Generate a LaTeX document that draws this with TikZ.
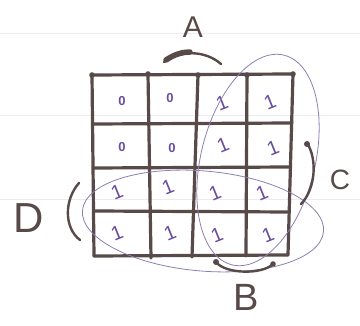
\documentclass[tikz,border=0pt]{standalone}
\usepackage{graphicx}
\usepackage{fontspec}
\setmainfont{Liberation Sans}
\definecolor{ink}{HTML}{574A48}
\definecolor{pen}{HTML}{6A4E9E}
\definecolor{loopc}{HTML}{8E7FB2}
\definecolor{rule}{HTML}{ECECEC}
\newcommand{\kone}{\rotatebox{22}{1}}
\begin{document}
\begin{tikzpicture}[x=1pt,y=-1pt,
  gridline/.style={ink, line width=3.2pt, line cap=round},
  zero/.style={pen, font=\fontsize{13}{13}\selectfont\bfseries, inner sep=0pt},
  one/.style={pen, font=\fontsize{20}{20}\selectfont, inner sep=0pt},
  lbl/.style={ink, inner sep=0pt},
  brace/.style={ink, line width=2.4pt, line cap=round},
  grouploop/.style={loopc, line width=0.8pt}]
\useasboundingbox (0,0) rectangle (360,326);
% faint ruled lines
\draw[rule, line width=0.6pt] (0,33) -- (360,33);
\draw[rule, line width=0.6pt] (0,115) -- (360,115);
\draw[rule, line width=0.6pt] (0,199) -- (360,199);
% grid corner coordinates
\coordinate (t0) at (92,75);  \coordinate (t1) at (148,74); \coordinate (t2) at (198,75);
\coordinate (t3) at (247,75); \coordinate (t4) at (293,74);
\coordinate (b0) at (94,256); \coordinate (b1) at (151,258); \coordinate (b2) at (192,257);
\coordinate (b3) at (246,256); \coordinate (b4) at (288,255);
\coordinate (l1) at (93,124); \coordinate (l2) at (93,168); \coordinate (l3) at (94,211);
\coordinate (r1) at (292,123); \coordinate (r2) at (290,167); \coordinate (r3) at (289,212);
% grid
\draw[gridline] (t0) -- (t4);
\draw[gridline] (l1) -- (r1);
\draw[gridline] (l2) -- (r2);
\draw[gridline] (l3) -- (r3);
\draw[gridline] (b0) -- (b4);
\foreach \i in {0,...,4} {
  \draw[gridline] (t\i) -- (b\i);
  \fill[ink] (t\i) circle (2.8);
}
% cell values
\node[zero] (c11) at (122,101) {0};
\node[zero] (c12) at (170,98) {0};
\node[one]  (c13) at (222,103) {\kone};
\node[one]  (c14) at (270,102) {\kone};
\node[zero] (c21) at (122,147) {0};
\node[zero] (c22) at (172,148) {0};
\node[one]  (c23) at (223,145) {\kone};
\node[one]  (c24) at (273,148) {\kone};
\node[one]  (c31) at (117,192) {\kone};
\node[one]  (c32) at (168,187) {\kone};
\node[one]  (c33) at (215,193) {\kone};
\node[one]  (c34) at (262,193) {\kone};
\node[one]  (c41) at (117,233) {\kone};
\node[one]  (c42) at (170,233) {\kone};
\node[one]  (c43) at (217,235) {\kone};
\node[one]  (c44) at (268,235) {\kone};
% group loops
\draw[grouploop, rotate around={-14:(258,160)}] (258,160) ellipse [x radius=57, y radius=108];
\draw[grouploop, rotate around={-5:(203,221)}] (203,221) ellipse [x radius=121, y radius=50];
% variable labels
\node[lbl, font=\fontsize{30}{30}\selectfont] (A) at (193,27) {A};
\node[lbl, font=\fontsize{38}{38}\selectfont] (B) at (246,297) {B};
\node[lbl, font=\fontsize{28}{28}\selectfont] (C) at (340,180) {C};
\node[lbl, font=\fontsize{42}{42}\selectfont] (D) at (29,218) {D};
% range braces
\draw[brace] (164,62) .. controls (180,50) and (205,50) .. (221,64);
\draw[ink, line width=5.5pt, line cap=round] (166,60) .. controls (175,54) and (183,52) .. (190,52);
\draw[brace] (216,262) .. controls (225,274) and (262,275) .. (273,264);
\fill[ink] (216,262) circle (3);
\fill[ink] (273,264) circle (2.8);
\draw[brace] (307,143) .. controls (318,160) and (315,190) .. (301,204);
\fill[ink] (307,144) circle (3);
\draw[brace] (79,183) .. controls (64,200) and (64,228) .. (80,240);
\end{tikzpicture}
\end{document}
